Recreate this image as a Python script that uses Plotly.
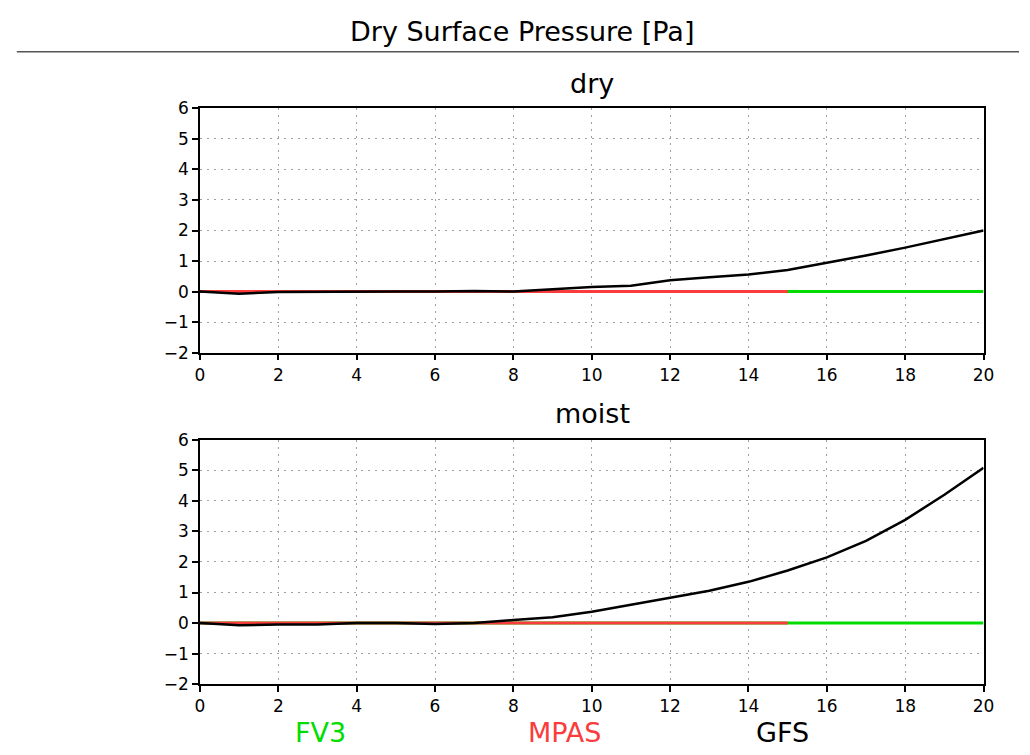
import plotly.graph_objects as go

# forecast hour axis
hours = list(range(0, 21))

# GFS dry surface pressure change [Pa]
gfs_dry = [0.0, -0.07, -0.01, 0.0, 0.0, 0.0, 0.0, 0.02, 0.0, 0.08, 0.15,
           0.19, 0.37, 0.47, 0.56, 0.71, 0.94, 1.18, 1.44, 1.71, 2.0]
# GFS moist surface pressure change [Pa]
gfs_moist = [0.0, -0.07, -0.05, -0.05, 0.0, 0.0, -0.03, 0.0, 0.1, 0.19, 0.37,
             0.6, 0.83, 1.06, 1.35, 1.72, 2.15, 2.69, 3.38, 4.2, 5.08]

# MPAS and FV3 (zero change)
mpas_hours = list(range(0, 16))
mpas_dry = [0.0] * 16
mpas_moist = [0.0] * 16
fv3_hours = list(range(0, 21))
fv3_dry = [0.0] * 21
fv3_moist = [0.0] * 21

panel_titles = ["dry", "moist"]
legend_names = ["FV3", "MPAS", "GFS"]
x_ticks = list(range(0, 21, 2))
y_ticks = list(range(-2, 7))

RED = "rgb(250,60,60)"
GREEN = "rgb(0,220,0)"
BLACK = "black"
FONT = "DejaVu Sans"

W, H = 1030, 755


def px(X):
    return X / W


def py(Y):
    return 1 - Y / H


fig = go.Figure()

panels = [("x", "y", fv3_dry, mpas_dry, gfs_dry),
          ("x2", "y2", fv3_moist, mpas_moist, gfs_moist)]
for xa, ya, fv3, mpas, gfs in panels:
    fig.add_trace(go.Scatter(x=fv3_hours, y=fv3, mode="lines", xaxis=xa, yaxis=ya,
                             line=dict(color=GREEN, width=3), showlegend=False))
    fig.add_trace(go.Scatter(x=mpas_hours, y=mpas, mode="lines", xaxis=xa, yaxis=ya,
                             line=dict(color=RED, width=3), showlegend=False))
    fig.add_trace(go.Scatter(x=hours, y=gfs, mode="lines", xaxis=xa, yaxis=ya,
                             line=dict(color=BLACK, width=2.5), showlegend=False))

xdom = [px(198), px(994)]
axis_common = dict(
    showline=True, linecolor="black", linewidth=1.5, mirror=True,
    ticks="outside", ticklen=6, tickcolor="black", tickwidth=1.5,
    showgrid=True, gridcolor="#a0a0a0", griddash="2px,5px", gridwidth=1,
    zeroline=False, tickfont=dict(family=FONT, size=17, color="black"),
)
xaxis_common = dict(axis_common, range=[0, 20], tickvals=x_ticks)
yaxis_common = dict(axis_common, range=[-2, 6], tickvals=y_ticks)

fig.update_layout(
    autosize=False,
    width=W, height=H,
    margin=dict(l=0, r=0, t=0, b=0, pad=0),
    paper_bgcolor="white", plot_bgcolor="white",
    xaxis=dict(xaxis_common, domain=xdom, anchor="y"),
    yaxis=dict(yaxis_common, domain=[py(352), py(101)], anchor="x"),
    xaxis2=dict(xaxis_common, domain=xdom, anchor="y2"),
    yaxis2=dict(yaxis_common, domain=[py(692.5), py(441.5)], anchor="x2"),
)

annotations = [
    dict(text="Dry Surface Pressure [Pa]", x=px(525), y=py(22),
         font=dict(family=FONT, size=27, color="black")),
    dict(text=panel_titles[0], x=px(596), y=py(75),
         font=dict(family=FONT, size=27, color="black")),
    dict(text=panel_titles[1], x=px(597), y=py(414),
         font=dict(family=FONT, size=27, color="black")),
]
for name, cx, col in zip(legend_names, [320, 568, 790], [GREEN, RED, BLACK]):
    annotations.append(dict(text=name, x=px(cx), y=py(742),
                            font=dict(family=FONT, size=27, color=col)))
for a in annotations:
    a.update(xref="paper", yref="paper", showarrow=False,
             xanchor="center", yanchor="middle")
fig.update_layout(annotations=annotations)

# rule under the main title
fig.add_shape(type="line", xref="paper", yref="paper",
              x0=px(12), x1=1, y0=py(43), y1=py(43),
              line=dict(color="#555555", width=1.5))

fig.write_html("out.html")
